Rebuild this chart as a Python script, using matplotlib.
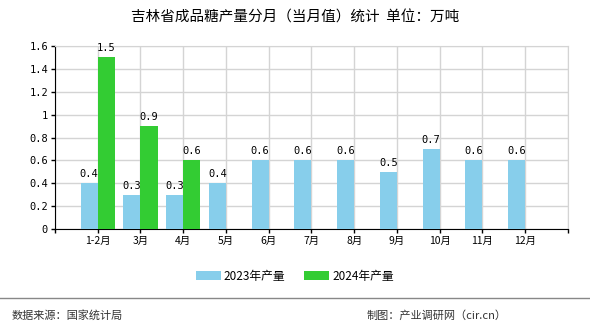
import matplotlib.pyplot as plt
import numpy as np

plt.rcParams['font.family'] = ['Noto Sans CJK SC', 'DejaVu Sans']

months = ["1-2月", "3月", "4月", "5月", "6月", "7月", "8月", "9月", "10月", "11月", "12月"]
prod_2023 = [0.4, 0.3, 0.3, 0.4, 0.6, 0.6, 0.6, 0.5, 0.7, 0.6, 0.6]
prod_2024 = [1.5, 0.9, 0.6]
yticks = [0, 0.2, 0.4, 0.6, 0.8, 1, 1.2, 1.4, 1.6]
ytick_labels = ["0", "0.2", "0.4", "0.6", "0.8", "1", "1.2", "1.4", "1.6"]

fig = plt.figure(figsize=(5.9, 3.3), dpi=100)
ax = fig.add_axes([0.0932, 0.306, 0.8695, 0.5546])

x = np.arange(len(months))
w = 0.4
b1 = ax.bar(x - w / 2, prod_2023, w, color="#87CEEB", label="2023年产量", zorder=3)
x2 = np.arange(len(prod_2024))
b2 = ax.bar(x2 + w / 2, prod_2024, w, color="#33CC33", label="2024年产量", zorder=3)

for bars, vals in ((b1, prod_2023), (b2, prod_2024)):
    for r, v in zip(bars, vals):
        ax.text(r.get_x() + r.get_width() / 2, v + 0.035, f"{v:.1f}", ha="center", va="bottom",
                fontsize=7.5, family="DejaVu Sans Mono", zorder=4)

ax.set_xlim(-1, len(months))
ax.set_ylim(0, 1.6)
ax.set_xticks(np.arange(-1, len(months) + 1))
ax.set_xticklabels([""] + months + [""], fontsize=7.5)
ax.set_yticks(yticks)
ax.set_yticklabels(ytick_labels, fontsize=7.5, family="DejaVu Sans Mono")
ax.grid(True, color="#d4d4d4", linewidth=1, zorder=0)
ax.tick_params(length=3, width=1, pad=2)
for s in ("top", "right"):
    ax.spines[s].set_color("#d4d4d4")
for s in ("left", "bottom"):
    ax.spines[s].set_color("black")

fig.text(0.5, 0.948, "吉林省成品糖产量分月（当月值）统计  单位：万吨", ha="center", va="center", fontsize=10.5)
fig.legend(handles=[b1, b2], loc="center", bbox_to_anchor=(0.5, 0.163), ncol=2, frameon=False,
           fontsize=8.5, handlelength=2.1, handleheight=0.8, columnspacing=1.6, handletextpad=0.25)
fig.add_artist(plt.Line2D([0, 1], [1 - 298 / 330] * 2, color="#888888", linewidth=1))
fig.text(0.02, 0.045, "数据来源：国家统计局", fontsize=8, color="#333333", va="center")
fig.text(0.858, 0.045, "制图：产业调研网（cir.cn）", fontsize=8, color="#333333", va="center", ha="right")

fig.savefig("out.png", dpi=100)
